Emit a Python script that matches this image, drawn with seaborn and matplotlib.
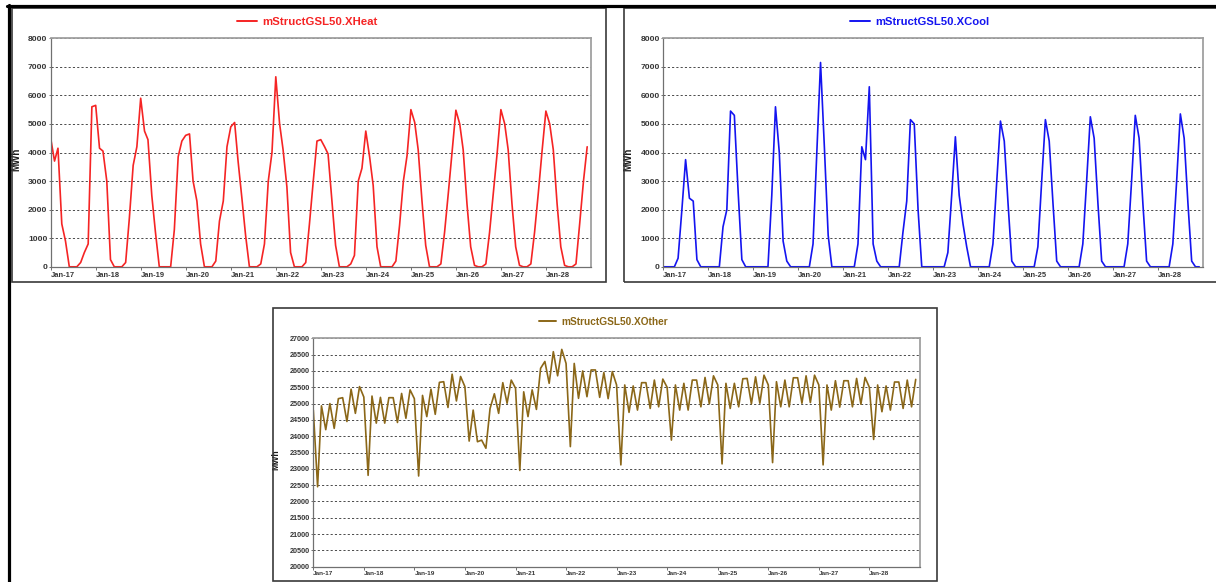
import numpy as np
import pandas as pd
import matplotlib
matplotlib.use('Agg')
import matplotlib.pyplot as plt
from matplotlib.patches import Rectangle
from matplotlib.lines import Line2D
from matplotlib.font_manager import FontProperties
import seaborn as sns

# ---------------- data ----------------
months = pd.date_range('2017-01-01', periods=144, freq='MS')
tick_labels = ['Jan-17', 'Jan-18', 'Jan-19', 'Jan-20', 'Jan-21', 'Jan-22',
               'Jan-23', 'Jan-24', 'Jan-25', 'Jan-26', 'Jan-27', 'Jan-28']

heat = [
    4500, 3700, 4150, 1500, 900, 0, 0, 0, 150, 500, 800, 5600,
    5650, 4150, 4050, 3000, 250, 0, 0, 0, 150, 1700, 3550, 4200,
    5900, 4750, 4450, 2500, 1200, 0, 0, 0, 0, 1300, 3850, 4400,
    4600, 4650, 3000, 2300, 800, 0, 0, 0, 200, 1600, 2300, 4200,
    4900, 5050, 3700, 2400, 1100, 0, 0, 0, 100, 800, 3000, 4000,
    6650, 5000, 4100, 2800, 500, 0, 0, 0, 150, 1500, 3000, 4400,
    4450, 4200, 3950, 2300, 750, 0, 0, 0, 100, 400, 3000, 3450,
    4750, 3850, 2850, 700, 0, 0, 0, 0, 200, 1450, 3000, 3900,
    5500, 5050, 4100, 2300, 750, 0, 0, 0, 100, 1200, 2600, 4000,
    5480, 5000, 4100, 2200, 700, 50, 0, 0, 100, 1200, 2600, 3950,
    5500, 5000, 4100, 2200, 700, 50, 0, 0, 100, 1200, 2600, 4050,
    5450, 5000, 4100, 2200, 700, 50, 0, 0, 100, 1500, 3000, 4200,
]

cool = [
    0, 0, 0, 0, 300, 2000, 3750, 2400, 2300, 250, 0, 0,
    0, 0, 0, 0, 1400, 2000, 5450, 5300, 2600, 250, 0, 0,
    0, 0, 0, 0, 0, 2500, 5600, 4000, 900, 200, 0, 0,
    0, 0, 0, 0, 800, 4000, 7150, 4200, 1100, 0, 0, 0,
    0, 0, 0, 0, 800, 4200, 3750, 6300, 800, 200, 0, 0,
    0, 0, 0, 0, 1200, 2300, 5150, 5000, 2000, 0, 0, 0,
    0, 0, 0, 0, 500, 2500, 4550, 2500, 1500, 700, 0, 0,
    0, 0, 0, 0, 800, 3000, 5100, 4400, 2200, 200, 0, 0,
    0, 0, 0, 0, 700, 3000, 5150, 4400, 2200, 200, 0, 0,
    0, 0, 0, 0, 800, 3000, 5250, 4500, 2200, 200, 0, 0,
    0, 0, 0, 0, 800, 3000, 5300, 4500, 2200, 200, 0, 0,
    0, 0, 0, 0, 800, 3000, 5350, 4500, 2200, 200, 0, 0,
]

other = [
    24800, 22450, 24930, 24200, 25000, 24240, 25150, 25180, 24450, 25440, 24700, 25520,
    25200, 22800, 25230, 24400, 25190, 24400, 25180, 25180, 24420, 25310, 24550, 25420,
    25150, 22780, 25250, 24600, 25440, 24670, 25650, 25670, 24880, 25900, 25080, 25830,
    25520, 23850, 24800, 23830, 23880, 23630, 24850, 25300, 24700, 25640, 25010, 25720,
    25470, 22950, 25360, 24600, 25420, 24820, 26080, 26290, 25620, 26590, 25850, 26660,
    26230, 23680, 26230, 25160, 26000, 25210, 26030, 26030, 25190, 25950, 25150, 25980,
    25570, 23120, 25570, 24730, 25540, 24800, 25640, 25640, 24850, 25720, 24900, 25750,
    25500, 23880, 25570, 24800, 25620, 24800, 25720, 25720, 24900, 25800, 24990, 25850,
    25570, 23150, 25620, 24850, 25620, 24900, 25760, 25770, 24990, 25820, 25010, 25870,
    25570, 23190, 25670, 24900, 25720, 24900, 25790, 25790, 25010, 25850, 25030, 25870,
    25570, 23120, 25570, 24800, 25700, 24890, 25700, 25700, 24900, 25770, 24980, 25800,
    25500, 23900, 25570, 24750, 25540, 24800, 25660, 25660, 24850, 25720, 24900, 25740,
]

# ---------------- figure ----------------
sns.set_theme(style='white')
plt.rcParams['font.family'] = ['Liberation Sans', 'DejaVu Sans']

W, H = 1216, 582
fig = plt.figure(figsize=(W / 100, H / 100), dpi=100)
fig.patch.set_facecolor('white')


def fx(x):
    return x / W


def fy(y):
    return 1 - y / H


def frame(x0, y0, x1, y1, color='#3a3a3a', lw=1.2):
    fig.add_artist(Rectangle((fx(x0), fy(y1)), fx(x1) - fx(x0), fy(y0) - fy(y1),
                             transform=fig.transFigure, fill=False,
                             edgecolor=color, linewidth=lw, zorder=5))


# panel frames
frame(11.5, 7.5, 606, 281.5)
frame(624.3, 7.5, 1222, 282)
frame(273.3, 308, 936.7, 580.8)
# thick black document lines
fig.add_artist(Line2D([fx(7), 1.0], [fy(5.7), fy(5.7)], transform=fig.transFigure,
                      color='black', linewidth=2.3, zorder=6))
fig.add_artist(Line2D([fx(8.7), fx(8.7)], [fy(4.5), 0.0], transform=fig.transFigure,
                      color='black', linewidth=2.3, zorder=6))


def panel(rect, values, color, label, ylim, ystep, leg_c, fs_title, fs_y, fs_x, fs_lab, lab_xy):
    x0, y0, x1, y1 = rect
    ax = fig.add_axes([fx(x0), fy(y1), fx(x1) - fx(x0), fy(y0) - fy(y1)])
    ax.set_facecolor('white')
    sns.lineplot(x=months, y=values, ax=ax, color=color, linewidth=1.2, label=label)
    ax.set_xlim(months[0], pd.Timestamp('2029-01-01'))
    ax.set_ylim(*ylim)
    ax.set_yticks(np.arange(ylim[0], ylim[1] + 1, ystep))
    ax.set_xticks(months[::12])
    ax.set_xticklabels(tick_labels, ha='left')
    ax.set_xlabel('')
    ax.set_ylabel('MWh', fontsize=fs_lab, fontweight='bold', color='#1a1a1a')
    ax.yaxis.set_label_coords(*lab_xy)
    ax.grid(False)
    ax.yaxis.grid(True, color='#4a4a4a', linestyle=(0, (2.2, 2.2)), linewidth=0.7)
    ax.set_axisbelow(True)
    for s in ['left', 'bottom']:
        ax.spines[s].set_color('#707070')
        ax.spines[s].set_linewidth(0.9)
    for s in ['top', 'right']:
        ax.spines[s].set_color('#a0a0a0')
        ax.spines[s].set_linewidth(1.3)
    ax.tick_params(axis='y', direction='out', length=1.6, width=0.7, color='#707070',
                   labelsize=fs_y, labelcolor='#353535', pad=0.8, left=True)
    ax.tick_params(axis='x', direction='out', length=2.2, width=0.7, color='#707070',
                   labelsize=fs_x, labelcolor='#353535', pad=1.2, bottom=True)
    for t in ax.get_xticklabels() + ax.get_yticklabels():
        t.set_fontweight('bold')
    leg = ax.legend(loc='center', bbox_to_anchor=(fx(leg_c[0]), fy(leg_c[1])),
                    bbox_transform=fig.transFigure, frameon=False,
                    prop=FontProperties(family='Liberation Sans', weight='bold', size=fs_title),
                    handlelength=1.75, handletextpad=0.5, labelcolor='linecolor',
                    borderpad=0.1)
    for h in leg.get_lines():
        h.set_linewidth(1.4)
    return ax


panel((50.7, 38.2, 591, 266.8), heat, '#f52424', 'mStructGSL50.XHeat',
      (0, 8000), 1000, (307.5, 22), 8.2, 6.1, 5.4, 7.0, (-0.055, 0.47))
panel((663.3, 38.2, 1203, 266.8), cool, '#1414f0', 'mStructGSL50.XCool',
      (0, 8000), 1000, (920, 22), 8.1, 6.1, 5.4, 7.0, (-0.0556, 0.47))
panel((313.3, 338.3, 920, 566.7), other, '#8b6718', 'mStructGSL50.XOther',
      (20000, 27000), 500, (603.3, 321.7), 7.3, 5.2, 4.6, 6.2, (-0.054, 0.47))

fig.savefig('out.png', dpi=100, facecolor='white')
